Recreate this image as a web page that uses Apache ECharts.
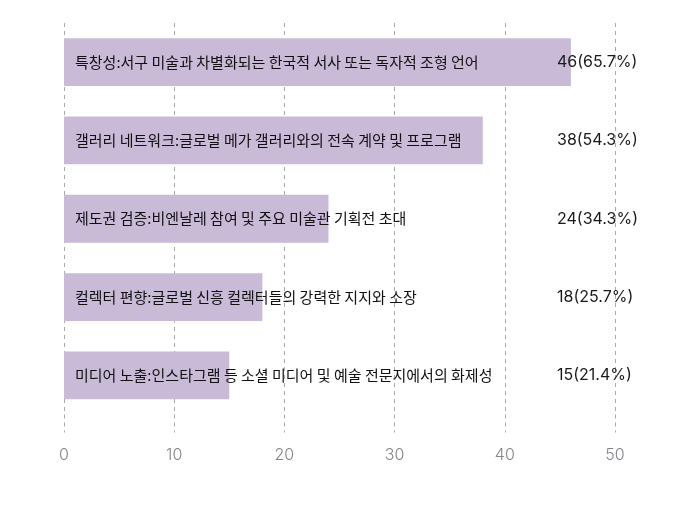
<!DOCTYPE html>
<html>
<head>
<meta charset="utf-8">
<script src="https://cdn.jsdelivr.net/npm/echarts@6/dist/echarts.min.js"></script>
<style>
  html, body { margin: 0; padding: 0; background: #fff; }
  #chart { width: 700px; height: 505px; }
</style>
</head>
<body>
<div id="chart"></div>
<script>
const categories = [
  '특창성:서구 미술과 차별화되는 한국적 서사 또는 독자적 조형 언어',
  '갤러리 네트워크:글로벌 메가 갤러리와의 전속 계약 및 프로그램',
  '제도권 검증:비엔날레 참여 및 주요 미술관 기획전 초대',
  '컬렉터 편향:글로벌 신흥 컬렉터들의 강력한 지지와 소장',
  '미디어 노출:인스타그램 등 소셜 미디어 및 예술 전문지에서의 화제성'
];
const counts = [46, 38, 24, 18, 15];
const shares = ['65.7%', '54.3%', '34.3%', '25.7%', '21.4%'];
const xTicks = [0, 10, 20, 30, 40, 50];

const valueLabels = counts.map((c, i) => c + '(' + shares[i] + ')');
const gridColor = '#a9a9ad';

const chart = echarts.init(document.getElementById('chart'));
chart.setOption({
  animation: false,
  grid: { left: 64, right: 85, top: 23, bottom: 90.5, containLabel: false },
  xAxis: {
    type: 'value',
    min: xTicks[0],
    max: xTicks[xTicks.length - 1],
    interval: 10,
    axisLine: { show: false },
    axisTick: {
      show: true, length: 18,
      lineStyle: { color: gridColor, type: [4, 4], width: 1 }
    },
    axisLabel: {
      margin: 33, color: '#85858a', fontSize: 16,
      fontFamily: 'Inter, "Noto Sans", sans-serif', fontWeight: 300
    },
    splitLine: { show: true, lineStyle: { color: gridColor, type: [4, 4], width: 1 } }
  },
  yAxis: [
    {
      type: 'category',
      data: categories,
      inverse: true,
      axisLine: { show: false },
      axisTick: { show: false },
      axisLabel: { show: false }
    },
    {
      type: 'category',
      data: valueLabels,
      inverse: true,
      position: 'right',
      offset: -58,
      z: 5,
      axisLine: { show: false },
      axisTick: { show: false },
      axisLabel: {
        margin: 0, align: 'left', color: '#1a1a1a', fontSize: 16,
        fontFamily: 'Inter, "Noto Sans", sans-serif'
      }
    }
  ],
  series: [{
    type: 'bar',
    data: counts,
    barCategoryGap: '39%',
    itemStyle: { color: '#c9bbd7' },
    label: {
      show: true,
      position: 'insideLeft',
      distance: 11,
      formatter: p => categories[p.dataIndex],
      color: '#111',
      fontSize: 15,
      fontFamily: '"Noto Sans CJK KR", sans-serif'
    }
  }]
});
</script>
</body>
</html>
